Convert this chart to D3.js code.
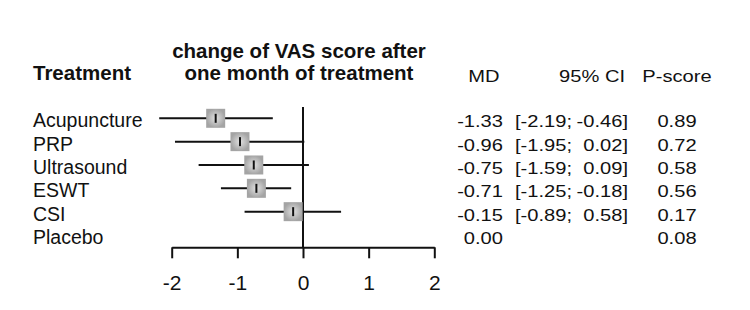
<html>
<head>
<meta charset="utf-8">
<style>
body { margin: 0; background: #fff; }
svg { font-family: "Liberation Sans", Arial, sans-serif; }
.lab { font-size: 19.5px; fill: #111; }
.hdr { font-size: 20.5px; font-weight: bold; fill: #111; }
.num { font-size: 16.5px; fill: #111; }
.ci { stroke: #111; stroke-width: 2; }
.axis path, .axis line { stroke: #111; stroke-width: 2; }
.axis text { font-size: 21px; fill: #111; font-family: "Liberation Sans", Arial, sans-serif; }
</style>
</head>
<body>
<svg width="750" height="310"></svg>
<script src="https://cdn.jsdelivr.net/npm/d3@7"></script>
<script>

// data
var treatments = ["Acupuncture", "PRP", "Ultrasound", "ESWT", "CSI", "Placebo"];
var md     = [-1.33, -0.96, -0.75, -0.71, -0.15, 0.00];
var ciLow  = [-2.19, -1.95, -1.59, -1.25, -0.89, null];
var ciHigh = [-0.46,  0.02,  0.09, -0.18,  0.58, null];
var pscore = [0.89, 0.72, 0.58, 0.56, 0.17, 0.08];
var xTicks = [-2, -1, 0, 1, 2];

var rows = treatments.map(function(t, i) {
  return {name: t, md: md[i], lo: ciLow[i], hi: ciHigh[i], p: pscore[i]};
});

var svg = d3.select("svg");
var sx = 1.22; // numbers in the table are a bit wide

var x = d3.scaleLinear().domain([-2, 2]).range([171.7, 434.3]);
var y = d3.scalePoint().domain(treatments).range([118.3, 235]);

var defs = svg.append("defs");
var grad = defs.append("radialGradient").attr("id", "sq");
grad.append("stop").attr("offset", "0%").attr("stop-color", "#e2e2e2");
grad.append("stop").attr("offset", "100%").attr("stop-color", "#a4a4a4");

// headers
svg.append("text").attr("class", "hdr").attr("x", 33).attr("y", 80).text("Treatment");
svg.append("text").attr("class", "hdr").attr("x", 299).attr("y", 58)
  .attr("text-anchor", "middle").text("change of VAS score after");
svg.append("text").attr("class", "hdr").attr("x", 299).attr("y", 80)
  .attr("text-anchor", "middle").text("one month of treatment");

function num(x0, y0, anchor, txt) {
  svg.append("text").attr("class", "num")
    .attr("transform", "translate(" + x0 + "," + y0 + ") scale(" + sx + ",1)")
    .attr("text-anchor", anchor).text(txt);
}
num(484, 82, "middle", "MD");
num(625, 82, "end", "95% CI");
num(677, 82, "middle", "P-score");

// zero line
svg.append("line").attr("class", "ci")
  .attr("x1", x(0)).attr("x2", x(0)).attr("y1", 107).attr("y2", 247.3);

// axis (plain hyphen for minus, like the original)
svg.append("g").attr("class", "axis")
  .attr("transform", "translate(0,247.3)")
  .call(d3.axisBottom(x).tickValues(xTicks).tickSize(11).tickSizeOuter(0).tickPadding(17)
    .tickFormat(function(d) { return String(d); }));

var g = svg.selectAll(".row").data(rows).enter().append("g").attr("class", "row");

g.append("text").attr("class", "lab")
  .attr("x", 33).attr("y", function(d) { return y(d.name) + 9; })
  .text(function(d) { return d.name; });

var est = g.filter(function(d) { return d.lo !== null; });

est.append("line").attr("class", "ci")
  .attr("x1", function(d) { return x(d.lo); })
  .attr("x2", function(d) { return x(d.hi); })
  .attr("y1", function(d) { return y(d.name); })
  .attr("y2", function(d) { return y(d.name); });

var s = 19;
est.append("rect")
  .attr("x", function(d) { return x(d.md) - s / 2; })
  .attr("y", function(d) { return y(d.name) - s / 2; })
  .attr("width", s).attr("height", s)
  .attr("fill", "url(#sq)");

est.append("line").attr("class", "ci")
  .attr("x1", function(d) { return x(d.md); })
  .attr("x2", function(d) { return x(d.md); })
  .attr("y1", function(d) { return y(d.name) - 4.5; })
  .attr("y2", function(d) { return y(d.name) + 4.5; });

// table columns
function f(v) { return v.toFixed(2); }
rows.forEach(function(d) {
  var yy = y(d.name) + 9;
  num(503, yy, "end", f(d.md));
  if (d.lo !== null) {
    num(572, yy, "end", "[" + f(d.lo) + ";");
    num(628, yy, "end", f(d.hi) + "]");
  }
  num(677, yy, "middle", f(d.p));
});

</script>
</body>
</html>
